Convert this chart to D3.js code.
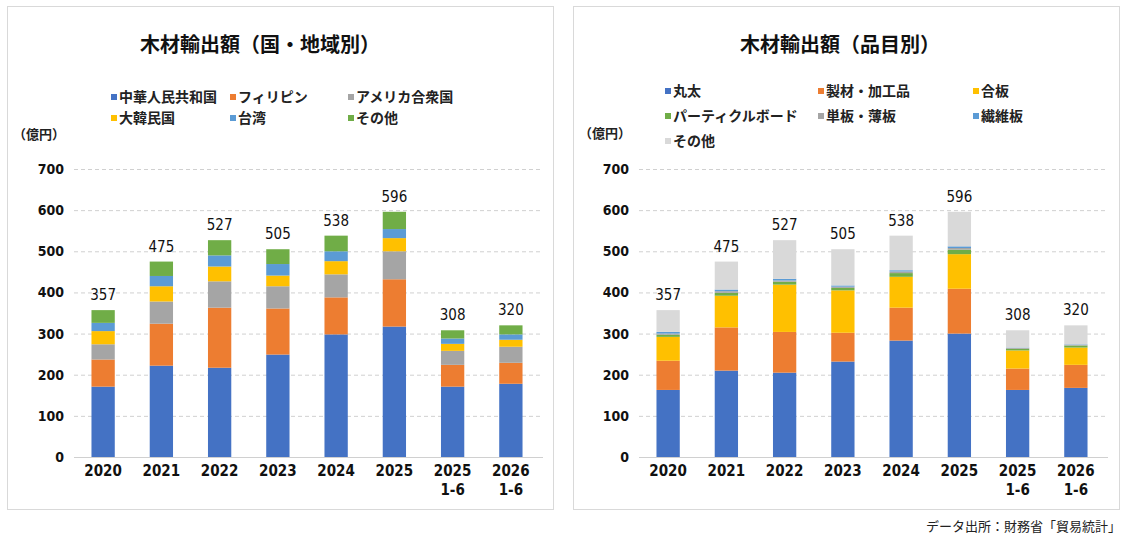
<!DOCTYPE html>
<html>
<head>
<meta charset="utf-8">
<script src="https://cdn.jsdelivr.net/npm/d3@7"></script>
<style>
html,body{margin:0;padding:0;background:#fff;}
svg{display:block;}
.jp{font-family:"Noto Sans CJK JP","Noto Sans",sans-serif;}
.num{font-family:"DejaVu Sans Condensed","DejaVu Sans",sans-serif;font-stretch:condensed;}
</style>
</head>
<body>
<svg id="chart" width="1128" height="548"></svg>
<script>
// ---- data ----
const categories = ["2020","2021","2022","2023","2024","2025","2025\n1-6","2026\n1-6"];
const yTicks = [0,100,200,300,400,500,600,700];

// Left: by country/region
const countrySeries = ["中華人民共和国","フィリピン","アメリカ合衆国","大韓民国","台湾","その他"];
const china       = [171,222,217,249,298,317,171,178];
const philippines = [ 66,102,146,112, 90,115, 53, 51];
const usa         = [ 37, 54, 64, 54, 56, 68, 34, 39];
const korea       = [ 32, 37, 36, 26, 32, 32, 17, 17];
const taiwan      = [ 20, 25, 27, 28, 24, 22, 13, 13];
const otherCountry= [ 31, 35, 37, 36, 38, 42, 20, 22];
const countryColors = ["#4472C4","#ED7D31","#A5A5A5","#FFC000","#5B9BD5","#70AD47"];

// Right: by product
const productSeries = ["丸太","製材・加工品","合板","パーティクルボード","単板・薄板","繊維板","その他"];
const logs        = [163,210,205,232,283,300,163,168];
const lumber      = [ 71,105, 99, 70, 80,109, 52, 56];
const plywood     = [ 58, 77,115,103, 75, 84, 44, 42];
const particle    = [  5,  7,  7,  6,  9, 11,  4,  5];
const veneer      = [  3,  4,  3,  3,  4,  4,  2,  2];
const fiberboard  = [  4,  4,  4,  3,  3,  4,  1,  1];
const otherProduct= [ 53, 68, 94, 88, 84, 84, 42, 46];
const productColors = ["#4472C4","#ED7D31","#FFC000","#70AD47","#A5A5A5","#5B9BD5","#D9D9D9"];

const totals = [357,475,527,505,538,596,308,320];

const svg = d3.select("#chart");

function drawPanel(opt){
  const g = svg.append("g");
  // frame
  g.append("rect").attr("x",opt.x0+0.5).attr("y",6.5).attr("width",opt.w).attr("height",503)
    .attr("fill","#fff").attr("stroke","#d9d9d9").attr("stroke-width",1);
  // title
  g.append("text").attr("class","jp").attr("x",opt.titleX).attr("y",52)
    .attr("text-anchor","middle").attr("font-size",20).attr("font-weight","bold")
    .attr("fill","#111").text(opt.title);
  // unit
  g.append("text").attr("class","jp").attr("x",opt.x0+6).attr("y",opt.unitY)
    .attr("font-size",13).attr("font-weight","bold").attr("fill","#222").text("（億円）");

  // legend
  opt.series.forEach((s,i)=>{
    const col = i%3, row = Math.floor(i/3);
    const lx = opt.legX[col], ly = opt.legY0 + row*opt.legDy;
    g.append("rect").attr("x",lx).attr("y",ly-8).attr("width",6).attr("height",6).attr("fill",opt.colors[i]);
    g.append("text").attr("class","jp").attr("x",lx+8).attr("y",ly).attr("font-size",14)
      .attr("font-weight","bold").attr("fill","#222").text(s);
  });

  const x = d3.scaleBand().domain(d3.range(categories.length)).range([opt.px0,opt.px1]).paddingInner(0.6).paddingOuter(0.3);
  const y = d3.scaleLinear().domain([0,700]).range([457,169]);

  // gridlines
  g.append("g").selectAll("line").data(yTicks.filter(t=>t>0)).join("line")
    .attr("x1",opt.gx0).attr("x2",opt.gx1).attr("y1",d=>y(d)+0.5).attr("y2",d=>y(d)+0.5)
    .attr("stroke","#d0d0d0").attr("stroke-dasharray","4,3").attr("stroke-width",1);

  // y axis labels
  const yAxis = d3.axisLeft(y).tickValues(yTicks).tickSize(0).tickPadding(0);
  const ya = g.append("g").attr("transform",`translate(${opt.yLabX},0)`).call(yAxis);
  ya.select(".domain").remove();
  ya.selectAll("text").attr("class","num").attr("font-size",14).attr("font-weight","bold").attr("fill","#111");

  // stacks
  const rows = categories.map((c,i)=>{ const o={i}; opt.values.forEach((v,k)=>o[k]=v[i]); return o; });
  const stack = d3.stack().keys(d3.range(opt.values.length))(rows);
  g.append("g").selectAll("g").data(stack).join("g").attr("fill",(d,k)=>opt.colors[k])
    .selectAll("rect").data(d=>d).join("rect")
    .attr("x",d=>x(d.data.i)).attr("width",x.bandwidth())
    .attr("y",d=>y(d[1])).attr("height",d=>y(d[0])-y(d[1]));

  // baseline
  g.append("line").attr("x1",opt.gx0).attr("x2",opt.gx1).attr("y1",y(0)+0.5).attr("y2",y(0)+0.5)
    .attr("stroke","#d0d0d0").attr("stroke-width",1.2);

  // totals
  g.append("g").selectAll("text").data(totals).join("text").attr("class","num")
    .attr("x",(d,i)=>x(i)+x.bandwidth()/2).attr("y",d=>y(d)-10)
    .attr("text-anchor","middle").attr("font-size",15).attr("fill","#111").text(d=>d);

  // x labels
  const xl = g.append("g").selectAll("text").data(categories).join("text").attr("class","num")
    .attr("x",(d,i)=>x(i)+x.bandwidth()/2).attr("y",476)
    .attr("text-anchor","middle").attr("font-size",15).attr("font-weight","bold").attr("fill","#111");
  xl.each(function(d){
    const t=d3.select(this);
    d.split("\n").forEach((line,j)=>{
      t.append("tspan").attr("x",t.attr("x")).attr("dy",j===0?0:19).text(line);
    });
  });
}

drawPanel({
  x0:7, w:546, titleX:260, title:"木材輸出額（国・地域別）",
  unitY:139, series:countrySeries, colors:countryColors,
  values:[china,philippines,usa,korea,taiwan,otherCountry],
  legX:[111,230,348], legY0:102, legDy:21,
  px0:74, px1:540, gx0:74, gx1:543, yLabX:64
});

drawPanel({
  x0:573, w:546, titleX:840, title:"木材輸出額（品目別）",
  unitY:138, series:productSeries, colors:productColors,
  values:[logs,lumber,plywood,particle,veneer,fiberboard,otherProduct],
  legX:[665,818,973], legY0:96, legDy:25,
  px0:639, px1:1105, gx0:639, gx1:1108, yLabX:629
});

// source
svg.append("text").attr("class","jp").attr("x",1121).attr("y",531).attr("text-anchor","end")
  .attr("font-size",13).attr("fill","#222").text("データ出所：財務省「貿易統計」");
</script>
</body>
</html>
